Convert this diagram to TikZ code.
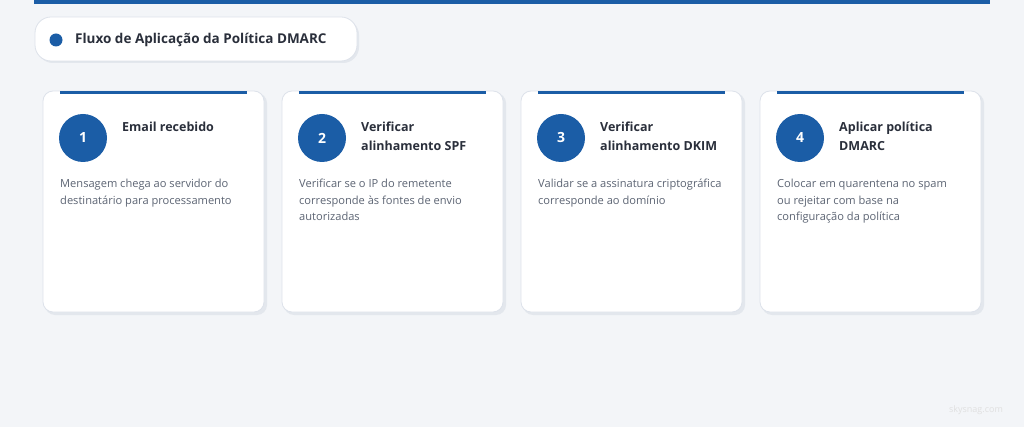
\documentclass[tikz,border=0pt]{standalone}
\usepackage{fontspec}
\setmainfont{Open Sans}
\definecolor{dmblue}{HTML}{1B5DA6}
\definecolor{pagebg}{HTML}{F3F5F8}
\definecolor{cardline}{HTML}{DDE2EA}
\definecolor{cardshadow}{HTML}{E3E7ED}
\definecolor{headtext}{HTML}{2A2F3B}
\definecolor{bodytext}{HTML}{5C6473}
\tikzset{
    card/.style={draw=cardline, fill=white, line width=0.8pt, rounded corners=10pt},
    cardshade/.style={fill=cardshadow, rounded corners=10pt},
    numdot/.style={circle, fill=dmblue, minimum size=48pt, inner sep=0pt, text=white, font=\fontsize{14}{16}\selectfont\bfseries},
    headtxt/.style={anchor=north west, inner sep=0pt, align=left, text=headtext, font=\fontsize{12.5}{19}\selectfont\bfseries},
    bodytxt/.style={anchor=north west, inner sep=0pt, align=left, text=bodytext, font=\fontsize{11.1}{16.5}\selectfont}
}
\begin{document}
\begin{tikzpicture}[line cap=round, line join=round, x=1pt, y=-1pt]
                \useasboundingbox (0,0) rectangle (1024,427);
                \fill[pagebg] (0,0) rectangle (1024,427);
                \fill[dmblue] (34,0) rectangle (990,4);

                % title pill
                \fill[cardshadow, rounded corners=16pt] (37,19) rectangle (359,63);
                \draw[card, rounded corners=16pt] (35,17) rectangle (357,61);
                \fill[dmblue] (56,40) circle (6.5);
                \node[anchor=west, inner sep=0pt, text=headtext, font=\fontsize{13.5}{16}\selectfont\bfseries] (title) at (75,40) {Fluxo de Aplicação da Política DMARC};

                % steps
                \foreach \n/\x/\head/\body in {
                    1/43/{Email recebido}/{Mensagem chega ao servidor do\\destinatário para processamento},
                    2/282/{Verificar\\alinhamento SPF}/{Verificar se o IP do remetente\\corresponde às fontes de envio\\autorizadas},
                    3/521/{Verificar\\alinhamento DKIM}/{Validar se a assinatura criptográfica\\corresponde ao domínio},
                    4/760/{Aplicar política\\DMARC}/{Colocar em quarentena no spam\\ou rejeitar com base na\\configuração da política}} {
                    \fill[cardshade] (\x+2,93) rectangle (\x+224,315);
                    \draw[card] (\x,91) rectangle (\x+221,312);
                    \coordinate (card\n) at (\x,91);
                    \fill[dmblue] (\x+17,91) rectangle (\x+204,94.5);
                    \node[numdot] (num\n) at (\x+40,138) {\n};
                    \node[headtxt] (head\n) at (\x+79,122) {\head};
                    \node[bodytxt] (body\n) at (\x+17,179) {\body};
                }

                \node[text=black!12, font=\fontsize{9}{10}\selectfont] (mark) at (976,410) {skysnag.com};

            \end{tikzpicture}
\end{document}
